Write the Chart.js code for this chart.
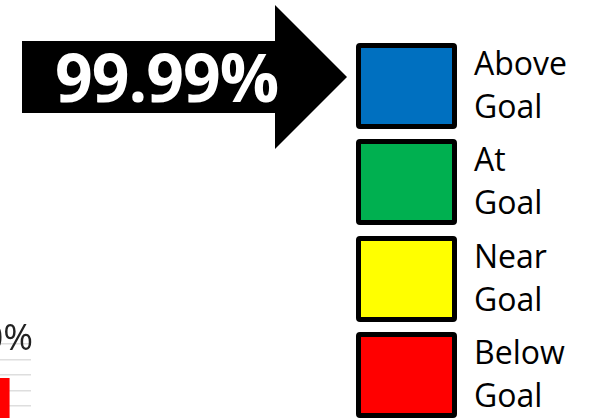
<!DOCTYPE html>
<html>
<head>
<meta charset="utf-8">
<script src="https://cdn.jsdelivr.net/npm/chart.js@4.4.1/dist/chart.umd.min.js"></script>
<style>
  html, body { margin: 0; padding: 0; background: #fff; }
  body { width: 589px; height: 418px; position: relative; overflow: hidden; font-family: 'Open Sans', sans-serif; }
  #arrow { position: absolute; left: 0; top: 0; width: 589px; height: 418px; background: #000;
    clip-path: polygon(22px 41px, 275px 41px, 275px 5px, 347px 77px, 275px 149px, 275px 113px, 22px 113px); }
  #headline { position: absolute; left: 55px; top: 43px; font-size: 66px; line-height: 66px; font-weight: 700; color: #fff; white-space: nowrap; letter-spacing: -1px; }
  .swatch { position: absolute; left: 356px; width: 91px; height: 76px; border: 5px solid #000; border-radius: 4px; }
  .lbl { position: absolute; left: 474px; width: 100px; font-size: 32px; line-height: 43px; color: #000; }
  #chartBox { position: absolute; left: -122px; top: 314px; width: 157px; height: 215px; }
</style>
</head>
<body>
<div id="chartBox"><canvas id="c"></canvas></div>
<div id="arrow"></div>
<div id="headline"></div>
<div id="legend"></div>
<script>
// ---- data ----
const statusLabels = ["Above Goal", "At Goal", "Near Goal", "Below Goal"];
const statusColors = ["#0070C0", "#00B050", "#FFFF00", "#FF0000"];
const headlineValue = "99.99%";
const categories = ["Current"];
const values = [78];
const valueStatus = ["Below Goal"];
const yMin = 0, yMax = 100, yStep = 10;

// ---- headline arrow ----
document.getElementById('headline').textContent = headlineValue;

// ---- legend ----
const legend = document.getElementById('legend');
statusLabels.forEach((lab, i) => {
  const top = 43 + i * 96.3;
  const sw = document.createElement('div');
  sw.className = 'swatch';
  sw.style.top = top + 'px';
  sw.style.background = statusColors[i];
  legend.appendChild(sw);
  const t = document.createElement('div');
  t.className = 'lbl';
  t.style.top = (top - 2) + 'px';
  t.textContent = lab;
  legend.appendChild(t);
});

// ---- chart ----
const colorFor = s => statusColors[statusLabels.indexOf(s)];
new Chart(document.getElementById('c'), {
  type: 'bar',
  data: {
    labels: categories,
    datasets: [{
      label: 'Result',
      data: values,
      backgroundColor: valueStatus.map(colorFor),
      borderWidth: 0
    }]
  },
  options: {
    responsive: true,
    maintainAspectRatio: false,
    animation: false,
    layout: { padding: { top: 30, bottom: 30, left: 0, right: 0 } },
    plugins: { legend: { display: false }, tooltip: { enabled: false } },
    scales: {
      x: { display: false },
      y: {
        position: 'right',
        min: yMin, max: yMax,
        ticks: {
          stepSize: yStep, mirror: true, padding: 2, labelOffset: -4, autoSkip: false,
          color: '#222',
          font: ctx => ({ family: 'Open Sans', size: (ctx.tick && ctx.tick.value === yMax) ? 36 : 4 }),
          callback: v => (v === yMax ? v + '%' : '')
        },
        grid: { color: '#dedede', lineWidth: 1.5, drawTicks: false },
        border: { display: false }
      }
    }
  }
});
</script>
</body>
</html>
